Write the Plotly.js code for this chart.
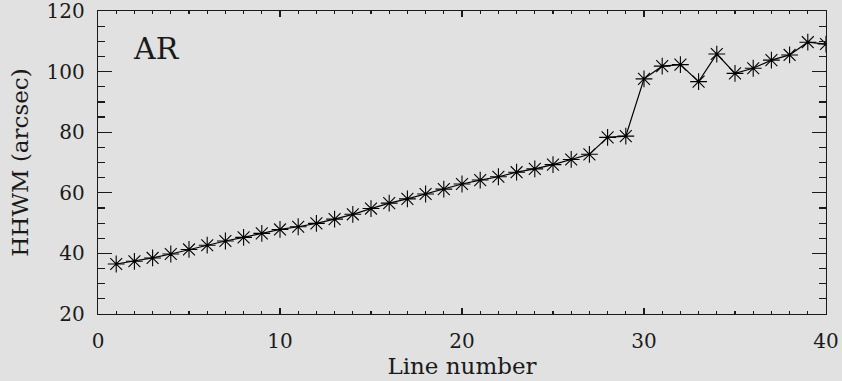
<!DOCTYPE html>
<html>
<head>
<meta charset="utf-8">
<script src="https://cdn.plot.ly/plotly-3.0.1.min.js"></script>
<style>
  html, body { margin: 0; padding: 0; background: #e1e1e1; }
  #plot { width: 842px; height: 381px; }
</style>
</head>
<body>
<div id="plot"></div>
<script>
// HHWM of each line, in arcsec, against line number
const lineNumber = [1, 2, 3, 4, 5, 6, 7, 8, 9, 10,
  11, 12, 13, 14, 15, 16, 17, 18, 19, 20,
  21, 22, 23, 24, 25, 26, 27, 28, 29, 30,
  31, 32, 33, 34, 35, 36, 37, 38, 39, 40];
const hhwm = [36.5, 37.4, 38.5, 39.8, 41.3, 42.7, 44.1, 45.3, 46.6, 47.9,
  48.8, 49.9, 51.3, 52.9, 54.8, 56.6, 58.0, 59.6, 61.2, 62.9,
  64.2, 65.3, 66.8, 67.9, 69.3, 71.0, 72.7, 78.3, 78.7, 97.6,
  101.8, 102.3, 96.7, 105.8, 99.4, 101.1, 103.8, 105.5, 109.7, 109.1];
const xTickVals = [0, 10, 20, 30, 40];
const yTickVals = [20, 40, 60, 80, 100, 120];
const panelLabel = 'AR';

const serif = '"DejaVu Serif", "Liberation Serif", serif';
const ink = '#1a1a1a';

const trace = {
  x: lineNumber,
  y: hhwm,
  type: 'scatter',
  mode: 'lines+markers',
  line: { color: '#000', width: 1.2 },
  marker: { symbol: 'asterisk-open', size: 14, line: { color: '#000', width: 1.1 } },
  hoverinfo: 'skip'
};

const axisCommon = {
  showgrid: false,
  zeroline: false,
  showline: true,
  linecolor: ink,
  linewidth: 1.3,
  mirror: 'allticks',
  ticks: 'inside',
  tickcolor: ink,
  tickwidth: 1.3,
  ticklabeloverflow: 'allow',
  tickfont: { family: serif, size: 20, color: ink },
  fixedrange: true
};

const layout = {
  width: 842,
  height: 381,
  margin: { l: 98, r: 16, t: 11, b: 67 },
  paper_bgcolor: '#e1e1e1',
  plot_bgcolor: '#e1e1e1',
  showlegend: false,
  xaxis: Object.assign({}, axisCommon, {
    range: [0, 40],
    tickvals: xTickVals,
    ticklen: 6,
    ticklabelstandoff: 9,
    minor: { ticks: 'inside', dtick: 1, ticklen: 3, tickcolor: ink, tickwidth: 1.2 },
    title: { text: 'Line number', font: { family: serif, size: 23, color: ink }, standoff: 3 }
  }),
  yaxis: Object.assign({}, axisCommon, {
    range: [20, 120],
    tickvals: yTickVals,
    ticklen: 14,
    ticklabelstandoff: 8,
    minor: { ticks: 'inside', dtick: 5, ticklen: 7, tickcolor: ink, tickwidth: 1.2 },
    title: { text: 'HHWM (arcsec)', font: { family: serif, size: 23, color: ink }, standoff: 11 }
  }),
  annotations: [{
    text: panelLabel,
    x: 3.2, y: 107.5, xref: 'x', yref: 'y',
    showarrow: false,
    font: { family: serif, size: 30, color: ink }
  }]
};

Plotly.newPlot('plot', [trace], layout, { displayModeBar: false, staticPlot: true });
</script>
</body>
</html>
